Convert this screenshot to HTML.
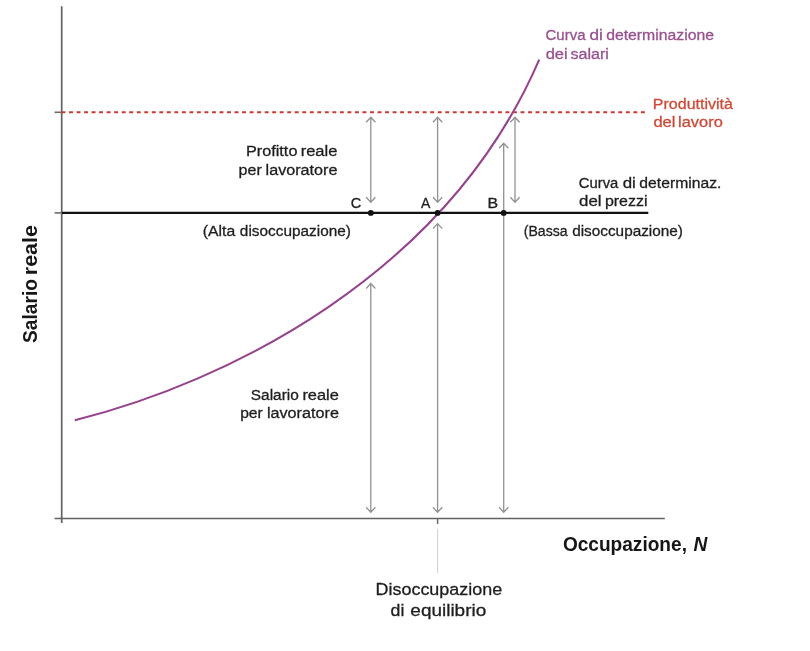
<!DOCTYPE html>
<html><head><meta charset="utf-8">
<style>
html,body{margin:0;padding:0;background:#fff;}
svg{display:block;will-change:transform;}
text{font-family:"Liberation Sans",sans-serif;}
.t{font-size:15.2px;fill:#1e1e1e;stroke:#1e1e1e;stroke-width:0.3px;}
.ar{stroke:#929292;stroke-width:1.3;fill:none;}
</style></head><body>
<svg width="810" height="651" viewBox="0 0 810 651">
<rect width="810" height="651" fill="#fff"/>
<!-- axes -->
<line x1="61.7" y1="6.3" x2="61.7" y2="523" stroke="#626262" stroke-width="1.7"/>
<line x1="54.6" y1="518.5" x2="664.8" y2="518.5" stroke="#626262" stroke-width="1.7"/>
<line x1="54.6" y1="112.3" x2="62" y2="112.3" stroke="#6b6b6b" stroke-width="1.6"/>
<line x1="54.6" y1="212.9" x2="62" y2="212.9" stroke="#6b6b6b" stroke-width="1.6"/>
<line x1="437.6" y1="518" x2="437.6" y2="524" stroke="#6b6b6b" stroke-width="1.5"/>
<line x1="437.6" y1="529" x2="437.6" y2="573" stroke="#cfcfcf" stroke-width="1"/>
<!-- red dashed -->
<line x1="61.5" y1="112.3" x2="646" y2="112.3" stroke="#c93a35" stroke-width="2" stroke-dasharray="3.9 3.625"/>
<!-- arrows -->
<g class="ar">
<path d="M370.8 117.3V202.3M366.2 122.3L370.8 117.3L375.4 122.3M366.2 197.3L370.8 202.3L375.4 197.3"/>
<path d="M437.6 117.3V202.3M433.0 122.3L437.6 117.3L442.2 122.3M433.0 197.3L437.6 202.3L442.2 197.3"/>
<path d="M515.0 117.3V202.3M510.4 122.3L515.0 117.3L519.6 122.3M510.4 197.3L515.0 202.3L519.6 197.3"/>
<path d="M370.8 283.5V512.3M366.2 288.5L370.8 283.5L375.4 288.5M366.2 507.3L370.8 512.3L375.4 507.3"/>
<path d="M437.6 223.6V512.3M433.0 228.6L437.6 223.6L442.2 228.6M433.0 507.3L437.6 512.3L442.2 507.3"/>
<path d="M503.7 143.3V512.3M499.1 148.3L503.7 143.3L508.3 148.3M499.1 507.3L503.7 512.3L508.3 507.3"/>
</g>
<!-- black line -->
<line x1="62" y1="212.9" x2="648.3" y2="212.9" stroke="#111" stroke-width="2.2"/>
<!-- curve -->
<path d="M74.8 420.2C225.7 382.5 446.1 275.7 539.2 59.6" fill="none" stroke="#94448d" stroke-width="2.05"/>
<!-- dots -->
<circle cx="370.8" cy="212.9" r="2.9" fill="#111"/>
<circle cx="437.6" cy="212.9" r="2.9" fill="#111"/>
<circle cx="503.7" cy="212.9" r="2.9" fill="#111"/>
<!-- labels -->
<g class="t">
<text x="245.94" y="156.4" textLength="51.50" lengthAdjust="spacingAndGlyphs">Profitto</text>
<text x="300.66" y="156.4" textLength="36.72" lengthAdjust="spacingAndGlyphs">reale</text>
<text x="238.63" y="174.9" textLength="23.18" lengthAdjust="spacingAndGlyphs">per</text>
<text x="265.62" y="174.9" textLength="71.84" lengthAdjust="spacingAndGlyphs">lavoratore</text>
<text x="202.89" y="235.6" textLength="32.35" lengthAdjust="spacingAndGlyphs">(Alta</text>
<text x="239.89" y="235.6" textLength="111.08" lengthAdjust="spacingAndGlyphs">disoccupazione)</text>
<text x="523.72" y="235.6" textLength="43.91" lengthAdjust="spacingAndGlyphs">(Bassa</text>
<text x="572.18" y="235.6" textLength="110.76" lengthAdjust="spacingAndGlyphs">disoccupazione)</text>
<text x="578.87" y="188.3" textLength="39.43" lengthAdjust="spacingAndGlyphs">Curva</text>
<text x="622.72" y="188.3" textLength="13.16" lengthAdjust="spacingAndGlyphs">di</text>
<text x="639.38" y="188.3" textLength="82.04" lengthAdjust="spacingAndGlyphs">determinaz.</text>
<text x="579.11" y="206.0" textLength="22.52" lengthAdjust="spacingAndGlyphs">del</text>
<text x="604.92" y="206.0" textLength="42.60" lengthAdjust="spacingAndGlyphs">prezzi</text>
<text x="350.80" y="207.5" textLength="10.49" lengthAdjust="spacingAndGlyphs">C</text>
<text x="420.91" y="207.5" textLength="9.34" lengthAdjust="spacingAndGlyphs">A</text>
<text x="487.55" y="207.5" textLength="10.61" lengthAdjust="spacingAndGlyphs">B</text>
<text x="250.84" y="400.0" textLength="47.94" lengthAdjust="spacingAndGlyphs">Salario</text>
<text x="302.43" y="400.0" textLength="36.41" lengthAdjust="spacingAndGlyphs">reale</text>
<text x="240.17" y="418.4" textLength="22.64" lengthAdjust="spacingAndGlyphs">per</text>
<text x="266.94" y="418.4" textLength="71.96" lengthAdjust="spacingAndGlyphs">lavoratore</text>
</g>
<g class="t" style="fill:#98508f;stroke:#98508f">
<text x="545.54" y="40.2" textLength="39.92" lengthAdjust="spacingAndGlyphs">Curva</text>
<text x="589.50" y="40.2" textLength="13.31" lengthAdjust="spacingAndGlyphs">di</text>
<text x="606.18" y="40.2" textLength="107.85" lengthAdjust="spacingAndGlyphs">determinazione</text>
<text x="545.65" y="58.5" textLength="22.00" lengthAdjust="spacingAndGlyphs">dei</text>
<text x="570.44" y="58.5" textLength="38.47" lengthAdjust="spacingAndGlyphs">salari</text>
</g>
<g class="t" style="fill:#cc4b38;stroke:#cc4b38">
<text x="652.87" y="109.4" textLength="80.04" lengthAdjust="spacingAndGlyphs">Produttività</text>
<text x="653.43" y="127.3" textLength="22.09" lengthAdjust="spacingAndGlyphs">del</text>
<text x="678.00" y="127.3" textLength="44.79" lengthAdjust="spacingAndGlyphs">lavoro</text>
</g>
<g style="font-size:17.2px;fill:#1e1e1e;stroke:#1e1e1e;stroke-width:0.3px">
<text x="375.56" y="595.1" textLength="126.61" lengthAdjust="spacingAndGlyphs">Disoccupazione</text>
<text x="390.57" y="615.5" textLength="13.80" lengthAdjust="spacingAndGlyphs">di</text>
<text x="410.37" y="615.5" textLength="75.88" lengthAdjust="spacingAndGlyphs">equilibrio</text>
</g>
<g style="font-size:20px;font-weight:bold;fill:#161616">
<text x="562.89" y="551.2" textLength="124.06" lengthAdjust="spacingAndGlyphs">Occupazione,</text>
<text x="693.4" y="551.2" textLength="13.8" lengthAdjust="spacingAndGlyphs" font-style="italic">N</text>
<text transform="translate(36.7 342.9) rotate(-90)" textLength="63.8" lengthAdjust="spacingAndGlyphs">Salario</text>
<text transform="translate(36.7 275.2) rotate(-90)" textLength="50" lengthAdjust="spacingAndGlyphs">reale</text>
</g>
</svg>
</body></html>
